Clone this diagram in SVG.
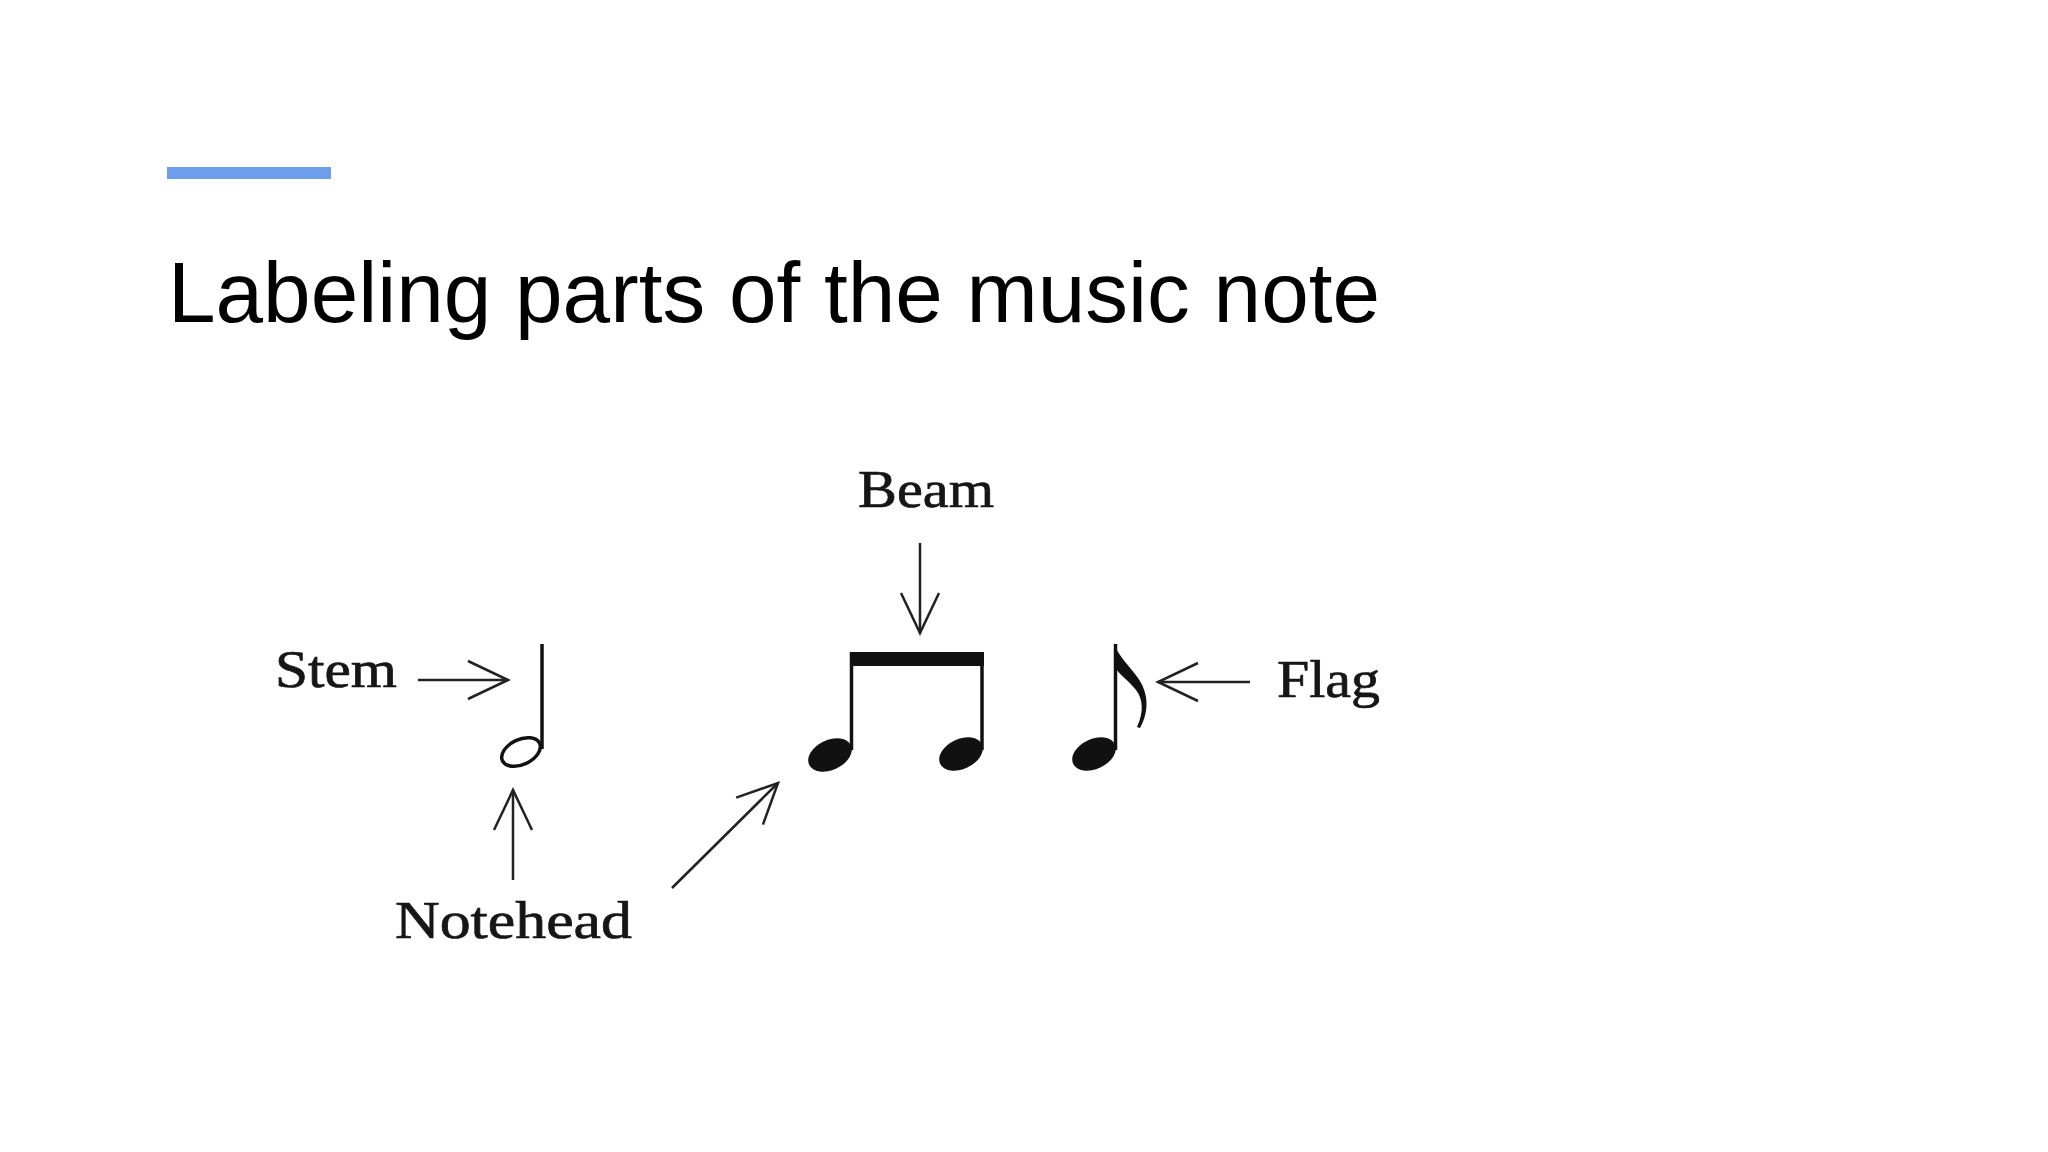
<svg xmlns="http://www.w3.org/2000/svg" width="2048" height="1152" viewBox="0 0 2048 1152">
<style>
.title{font-family:"Liberation Sans",Arial,sans-serif;font-size:85.5px;fill:#000}
.lbl{font-family:"Liberation Serif","Times New Roman",serif;font-size:52px;fill:#161616;stroke:#161616;stroke-width:0.7}
.arrow{stroke:#222;stroke-width:2.5;fill:none;marker-end:url(#v)}
.ink{fill:#111}
.stem{stroke:#111;stroke-width:3.5}
</style>
<defs>
<marker id="v" markerUnits="userSpaceOnUse" markerWidth="60" markerHeight="60" viewBox="-50 -30 60 60" refX="0" refY="0" orient="auto">
<path d="M-40,-19 L0,0 L-40,19" fill="none" stroke="#222" stroke-width="2.5"/>
</marker>
</defs>
<rect width="2048" height="1152" fill="#fff"/>
<rect id="accent" x="167" y="167" width="164" height="12" fill="#6d9eeb"/>
<text id="title" class="title" x="168" y="322">Labeling parts of the music note</text>

<g id="half-note">
<line class="stem" x1="542" y1="644" x2="542" y2="749"/>
<ellipse cx="521" cy="752" rx="20.5" ry="12.5" transform="rotate(-25 521 752)" fill="none" stroke="#111" stroke-width="3.5"/>
</g>
<g id="beamed-notes">
<rect x="850" y="652" width="134" height="14" class="ink"/>
<line class="stem" x1="851.5" y1="652" x2="851.5" y2="750"/>
<line class="stem" x1="982" y1="652" x2="982" y2="750"/>
<ellipse cx="830" cy="755" rx="23" ry="15" transform="rotate(-25 830 755)" class="ink"/>
<ellipse cx="961" cy="754" rx="23" ry="15" transform="rotate(-25 961 754)" class="ink"/>
</g>
<g id="flag-note">
<line class="stem" x1="1115.5" y1="644" x2="1115.5" y2="750"/>
<ellipse cx="1094" cy="754" rx="23" ry="15" transform="rotate(-25 1094 754)" class="ink"/>
<path class="ink" d="M1114,643 C1118,656 1128,664 1138,678 C1148,692 1150,710 1140,728 L1137,727 C1144,712 1143,699 1136,690 C1128,680 1121,676 1117,670 Z"/>
</g>

<g id="label-stem"><text class="lbl" x="275" y="687" textLength="122" lengthAdjust="spacingAndGlyphs">Stem</text></g>
<g id="label-notehead"><text class="lbl" x="395" y="938" textLength="237" lengthAdjust="spacingAndGlyphs">Notehead</text></g>
<g id="label-beam"><text class="lbl" x="858" y="507" textLength="136" lengthAdjust="spacingAndGlyphs">Beam</text></g>
<g id="label-flag"><text class="lbl" x="1277" y="697" textLength="103" lengthAdjust="spacingAndGlyphs">Flag</text></g>

<g id="connectors">
<line class="arrow" x1="418" y1="680" x2="508" y2="680"/>
<line class="arrow" x1="513" y1="880" x2="513" y2="790"/>
<line class="arrow" x1="672" y1="888" x2="778" y2="783"/>
<line class="arrow" x1="920" y1="543" x2="920" y2="633"/>
<line class="arrow" x1="1250" y1="682" x2="1158" y2="682"/>
</g>
</svg>
